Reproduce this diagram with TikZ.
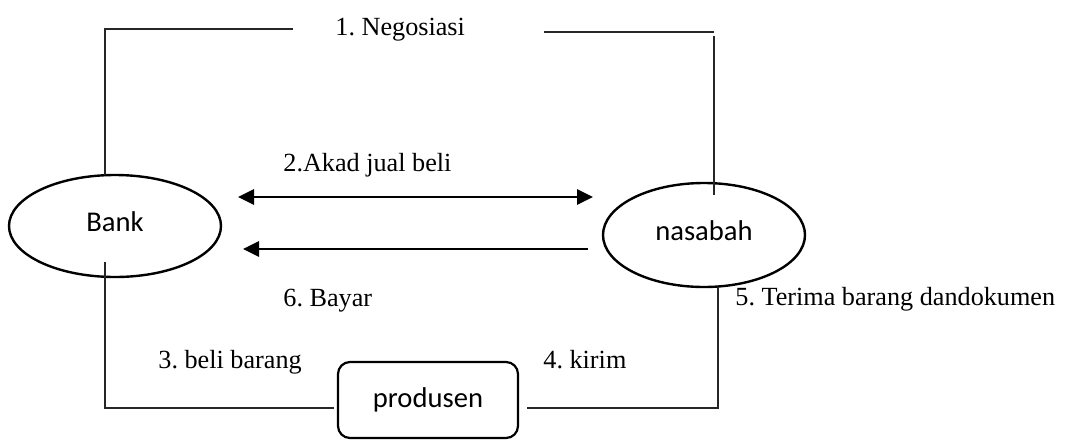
\documentclass[tikz,border=0pt]{standalone}
\usepackage{fontspec}
\setmainfont{Liberation Serif}
\newfontfamily\calib{Carlito}
\usetikzlibrary{shapes.geometric,arrows.meta}
\frenchspacing
\begin{document}
\begin{tikzpicture}[x=0.5pt,y=-0.5pt,
  ent/.style={draw,ellipse,line width=1.2pt,inner sep=0pt,text depth=4pt,
    font=\calib\fontsize{14.3}{16}\selectfont},
  pbox/.style={draw,rounded corners=6pt,line width=1.1pt,inner sep=0pt,
    minimum width=90pt,minimum height=38pt,font=\calib\fontsize{14.3}{16}\selectfont},
  lbl/.style={anchor=base west,inner sep=0pt,font=\fontsize{13.1}{15}\selectfont},
  conn/.style={line width=0.75pt,draw=black!85},
  tip/.style={},
  arr/.style={line width=1.35pt,-{Triangle[length=8pt,width=7.5pt]}},
  darr/.style={line width=1.35pt,{Triangle[length=8pt,width=7.5pt]}-{Triangle[length=8pt,width=7.5pt]}}]
\useasboundingbox (0,0) rectangle (1068,439);

% entities
\node[ent,minimum width=106pt,minimum height=51pt] (bank) at (115,226) {Bank};
\node[ent,minimum width=101pt,minimum height=52pt] (nasabah) at (704,235) {nasabah};
\node[pbox] (produsen) at (428,400) {produsen};

% connector end points
\coordinate (bankT) at (105,175);
\coordinate (negL) at (293,29);
\coordinate (negR) at (544,32);
\coordinate (nasT) at (714,195);
\coordinate (bankB) at (105,262);
\coordinate (prodL) at (334,408);
\coordinate (prodR) at (527,408);
\coordinate (nasB) at (718,287);

% 1. Negosiasi
\draw[conn] (bankT) |- (negL);
\draw[conn] (negR) -- (714,32);
\draw[conn] (714,36) -- (nasT);
% 3. beli barang / 4. kirim
\draw[conn] (bankB) |- (prodL);
\draw[conn] (prodR) -| (nasB);

% arrows
\coordinate (a2L) at (238,197);
\coordinate (a2R) at (593,197);
\coordinate (a6R) at (588,249);
\coordinate (a6L) at (243,249);
\draw[darr] (a2L) -- (a2R);
\draw[arr] (a6R) -- (a6L);

% labels
\node[lbl] (l1) at (335,35) {1. Negosiasi};
\node[lbl] (l2) at (283,171) {2.Akad jual beli};
\node[lbl] (l6) at (283,306) {6. Bayar};
\node[lbl] (l3) at (158,368) {3. beli barang};
\node[lbl] (l4) at (543,368) {4. kirim};
\node[lbl] (l5) at (735,305) {5. Terima barang dandokumen};
\end{tikzpicture}
\end{document}
